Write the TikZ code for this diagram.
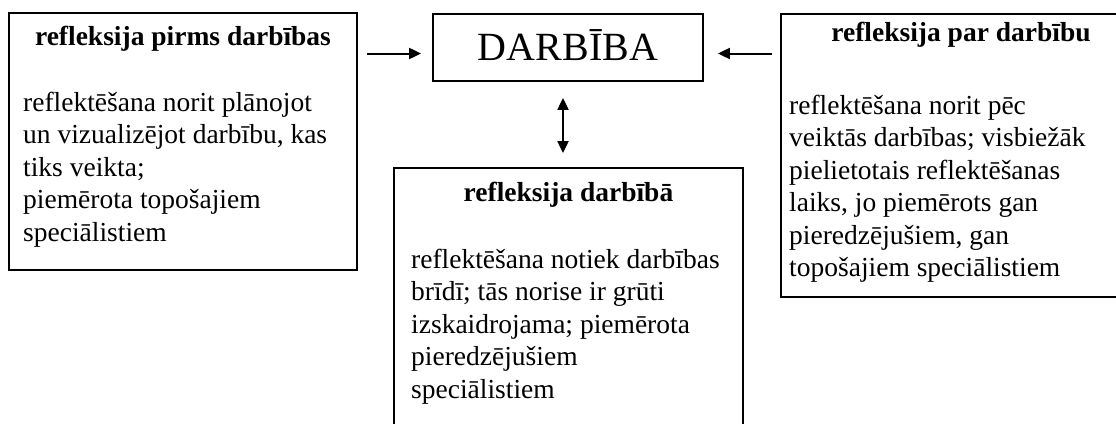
\documentclass[tikz,border=0pt]{standalone}
\usepackage{fontspec}
\setmainfont{Liberation Serif}
\usetikzlibrary{arrows.meta}
\newcommand\bodylines[1]{\begin{tabular}[t]{@{}l@{}}#1\end{tabular}}
\begin{document}
\begin{tikzpicture}[x=1pt,y=-1pt,
  box/.style={draw, line width=1.8pt, inner sep=0pt, rectangle},
  tip/.tip={Triangle[length=12pt,width=11pt]},
  conn/.style={line width=2pt, -tip},
  conn2/.style={line width=2pt, tip-tip},
  heading/.style={font=\bfseries\fontsize{27.5}{32.5}\selectfont, inner sep=0pt, anchor=base},
  body/.style={font=\fontsize{27.5}{32.5}\selectfont, inner sep=0pt, anchor=base west}]
\useasboundingbox (0,0) rectangle (1116,423);
\clip (0,0) rectangle (1116,423);

% frames
\node[box, minimum width=348pt, minimum height=257pt] (lbox) at (183,141.5) {};
\node[box, minimum width=270pt, minimum height=67pt, text height=26.5pt, text depth=0pt,
      font=\fontsize{40}{48}\selectfont] (act) at (568,47.5) {DARBĪBA};
\node[box, minimum width=360pt, minimum height=283pt] (rbox) at (961,155.5) {};
\node[box, minimum width=349pt, minimum height=272pt] (dbox) at (568.5,304) {};

% left frame text
\node[heading] (lt) at (183,45) {refleksija pirms darbības};
\node[body] (lb) at (23,111) {\bodylines{reflektēšana norit plānojot\\un vizualizējot darbību, kas\\tiks veikta;\\piemērota topošajiem\\speciālistiem}};

% lower frame text
\node[heading] (dt) at (568.5,201) {refleksija darbībā};
\node[body] (db) at (411,268) {\bodylines{reflektēšana notiek darbības\\brīdī; tās norise ir grūti\\izskaidrojama; piemērota\\pieredzējušiem\\speciālistiem}};

% right frame text
\node[heading] (rt) at (961,41) {refleksija par darbību};
\node[body] (rb) at (789,114) {\bodylines{reflektēšana norit pēc\\veiktās darbības; visbiežāk\\pielietotais reflektēšanas\\laiks, jo piemērots gan\\pieredzējušiem, gan\\topošajiem speciālistiem}};

% connectors
\coordinate (la) at ([yshift=-6pt]act.west);
\coordinate (ra) at ([yshift=-6pt]act.east);
\coordinate (va) at ([xshift=-5pt]act.south);
\draw[conn, shorten <=9pt, shorten >=11pt] (la -| lbox.east) -- (la);
\draw[conn, shorten <=8pt, shorten >=14pt] (ra -| rbox.west) -- (ra);
\draw[conn2, shorten <=16pt, shorten >=14pt] (va) -- (va |- dbox.north);
\end{tikzpicture}
\end{document}
